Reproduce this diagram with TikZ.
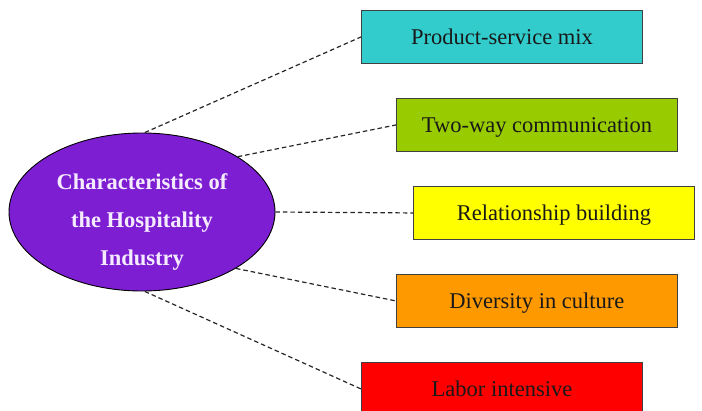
\documentclass[tikz,border=0pt]{standalone}
\usepackage{fontspec}
\setmainfont{Liberation Serif}
\usetikzlibrary{shapes.geometric}
\definecolor{cpurple}{RGB}{125,30,210}
\definecolor{ccyan}{RGB}{51,204,204}
\definecolor{cgreen}{RGB}{153,204,0}
\definecolor{cyellow}{RGB}{255,255,0}
\definecolor{corange}{RGB}{255,153,0}
\definecolor{cred}{RGB}{255,0,0}
\definecolor{ctext}{RGB}{245,235,255}
\begin{document}
\begin{tikzpicture}[x=1pt,y=-1pt,
  box/.style={draw=black!75, line width=0.9pt, minimum width=281pt, minimum height=53pt,
    anchor=north west, inner sep=0pt, text=black!90, text depth=-2pt, font=\fontsize{22.5}{27}\selectfont},
  hub/.style={ellipse, draw=black, line width=0.9pt, fill=cpurple, minimum width=266pt,
    minimum height=158pt, inner sep=0pt},
  hubtext/.style={text=ctext, align=center, inner sep=0pt,
    font=\fontsize{22.5}{38}\selectfont\bfseries},
  link/.style={dash pattern=on 4.5pt off 3pt, line width=1.2pt, draw=black!85}]
\useasboundingbox (0,0) rectangle (702,410);
\clip (0,0) rectangle (702,410);
\node[hub] (E) at (142,212) {};
\node[hubtext] (Et) at (142,222) {Characteristics of\\the Hospitality\\Industry};
\node[box, fill=ccyan]   (b1) at (361,10)  {Product-service mix};
\node[box, fill=cgreen]  (b2) at (396,98)  {Two-way communication};
\node[box, fill=cyellow] (b3) at (413,186) {Relationship building};
\node[box, fill=corange] (b4) at (396,274) {Diversity in culture};
\node[box, fill=cred]    (b5) at (361,362) {Labor intensive};
\draw[link] (E.88) -- (b1.west);
\draw[link] (E.30) -- (b2.west);
\draw[link] (E.east) -- (b3.west);
\draw[link] (E.-31) -- (b4.west);
\draw[link] (E.-88) -- (b5.west);
\end{tikzpicture}
\end{document}
